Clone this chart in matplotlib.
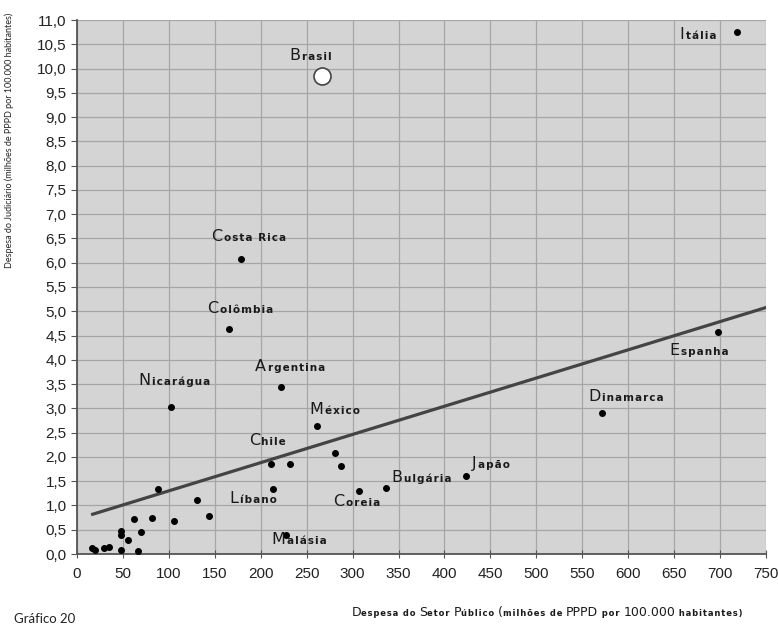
import numpy as np
import matplotlib
matplotlib.use("Agg")
import matplotlib.pyplot as plt
from matplotlib.ticker import FuncFormatter, MultipleLocator
from matplotlib.offsetbox import TextArea, HPacker, AnnotationBbox

# pontos com rotulo (despesa setor publico, despesa judiciario)
nomes = ["Itália", "Costa Rica", "Colômbia", "Nicarágua", "Argentina", "México",
         "Espanha", "Dinamarca", "Japão", "Bulgária", "Coreia", "Malásia"]
pub = [718, 179, 165, 102, 222, 261, 698, 571, 423, 336, 307, 227]
jud = [10.76, 6.08, 4.63, 3.03, 3.45, 2.63, 4.58, 2.91, 1.61, 1.36, 1.30, 0.40]

# posicao do texto de cada rotulo
rot_x = [656, 146, 142, 67, 194, 253, 645, 557, 430, 342, 279, 212]
rot_y = [10.55, 6.38, 4.90, 3.42, 3.70, 2.82, 4.03, 3.08, 1.70, 1.42, 0.93, 0.14]

# Chile e Libano: rotulos sem ponto proprio
extra_nomes = ["Chile", "Líbano"]
extra_x = [187, 166]
extra_y = [2.18, 0.98]

# Brasil destacado
brasil_x, brasil_y = 267, 9.85

# demais paises (sem rotulo)
outros_x = [16.6, 19.6, 29.7, 34.8, 47.6, 47.6, 47.6, 55.5, 62, 70, 66.7, 81.3,
            87.8, 105.5, 131, 144, 210.8, 231.8, 213, 287.3, 280.4]
outros_y = [0.12, 0.08, 0.12, 0.14, 0.48, 0.39, 0.08, 0.29, 0.72, 0.45, 0.06, 0.75,
            1.33, 0.69, 1.12, 0.78, 1.85, 1.85, 1.33, 1.81, 2.08]

# reta de tendencia
trend_a, trend_b = 0.00581, 0.72
trend_x0, trend_x1 = 17, 750

fig = plt.figure(figsize=(7.78, 6.25), dpi=100)
ax = fig.add_axes([0.099, 0.1136, 0.8856, 0.8544])
ax.set_facecolor("#d4d4d4")

ax.set_xlim(0, 750)
ax.set_ylim(0, 11)
ax.xaxis.set_major_locator(MultipleLocator(50))
ax.yaxis.set_major_locator(MultipleLocator(0.5))
ax.yaxis.set_major_formatter(FuncFormatter(lambda v, p: f"{v:.1f}".replace(".", ",")))
ax.grid(True, color="#a6a6a6", lw=0.9)
ax.set_axisbelow(True)
for s in ["top", "right"]:
    ax.spines[s].set_visible(False)
for s in ["left", "bottom"]:
    ax.spines[s].set_color("#555555")
    ax.spines[s].set_linewidth(1.3)
ax.tick_params(axis="y", direction="out", length=4, color="#555555",
               labelsize=11, labelcolor="#222222")
ax.tick_params(axis="x", direction="inout", length=6, color="#555555",
               labelsize=11, labelcolor="#222222", pad=6)
for t in ax.get_xticklabels() + ax.get_yticklabels():
    t.set_fontfamily("Liberation Sans")

tx = np.linspace(trend_x0, trend_x1, 2)
ax.plot(tx, trend_a * tx + trend_b, color="#444444", lw=2.3, zorder=2)

ax.scatter(outros_x, outros_y, s=16, color="black", zorder=3)
ax.scatter(pub, jud, s=16, color="black", zorder=3)
ax.scatter([brasil_x], [brasil_y], s=150, color="white", edgecolor="#444444",
           lw=1.2, zorder=3)

HAIR = "\u200a"


def espacado(txt):
    return HAIR.join(txt)


def rotulo(x, y, nome, big=11.5, small=7.5):
    partes = [TextArea(nome[0], textprops=dict(size=big, family="DejaVu Sans", color="#1a1a1a")),
              TextArea(espacado(nome[1:]), textprops=dict(size=small, family="DejaVu Sans",
                                                          color="#1a1a1a", weight="bold"))]
    box = HPacker(children=partes, align="baseline", pad=0, sep=1)
    ab = AnnotationBbox(box, (x, y), xycoords="data", box_alignment=(0, 0),
                        frameon=False, pad=0)
    ax.add_artist(ab)


for n, x, y in zip(nomes, rot_x, rot_y):
    rotulo(x, y, n)
for n, x, y in zip(extra_nomes, extra_x, extra_y):
    rotulo(x, y, n)
rotulo(231, 10.12, "Brasil")

# titulo do eixo x com letras de tamanhos mistos
xl_partes = [("D", 9), ("espesa do ", 6), ("S", 9), ("etor ", 6), ("P", 9),
             ("úblico ", 6), ("(", 9), ("milhões de ", 6), ("PPPD", 9),
             (" por ", 6), ("100.000", 9), (" habitantes)", 6)]
xl_box = HPacker(children=[TextArea(espacado(t) if s < 8 else t,
                                    textprops=dict(size=s, family="DejaVu Sans",
                                                   color="#1a1a1a",
                                                   weight="bold" if s < 8 else "normal"))
                           for t, s in xl_partes], align="baseline", pad=0, sep=0)
fig.add_artist(AnnotationBbox(xl_box, (547 / 778, 6 / 625), xycoords="figure fraction",
                              box_alignment=(0.5, 0), frameon=False, pad=0))

fig.text(9 / 778, 1 - 13 / 625,
         "Despesa do Judiciário (milhões de PPPD por 100.000 habitantes)",
         rotation=90, va="top", ha="center", size=6.5, family="Lato", color="#222222")
fig.text(14 / 778, 1 - 613 / 625, "Gráfico 20", va="top", ha="left", size=9.5,
         family="Lato", color="#222222")

fig.savefig("out.png", dpi=100)
